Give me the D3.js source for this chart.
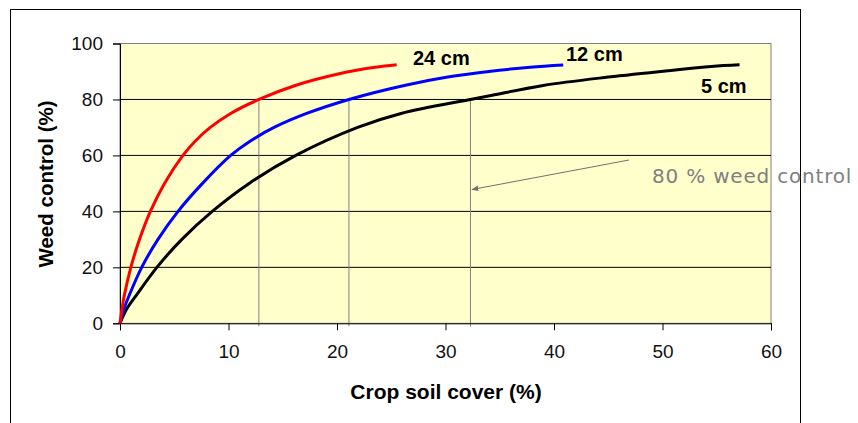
<!DOCTYPE html>
<html>
<head>
<meta charset="utf-8">
<script src="https://cdn.jsdelivr.net/npm/d3@7"></script>
<style>
  body { margin: 0; background: white; }
  svg { display: block; font-family: "Liberation Sans", Arial, sans-serif; }
</style>
</head>
<body>
<svg id="chart"></svg>
<script>
// crop soil cover (%) and weed control (%)
var cover5   = [0, 0.6, 1.5, 3.4, 5.7, 8.5, 11.9, 16.2, 21.9, 25.9, 32.3, 34.3, 39.0, 45.0, 50.5, 54.5, 57.1];
var control5 = [0, 5, 10, 20, 30, 40, 50, 60, 70, 75, 80, 81.5, 85, 88, 90.3, 91.8, 92.4];

var cover12   = [0, 0.35, 0.85, 2.0, 3.5, 5.35, 7.6, 10.2, 11.95, 14.2, 17.2, 21.1, 26.2, 30.2, 34.0, 37.8, 40.85];
var control12 = [0, 5, 10, 20, 30, 40, 50, 60, 65, 70, 75, 80, 85, 88, 90, 91.5, 92.3];

var cover24   = [0, 0.18, 0.4, 1.0, 1.8, 2.8, 4.1, 5.8, 6.9, 8.32, 10.2, 12.8, 16.15, 20.0, 23.5, 25.5];
var control24 = [0, 5, 10, 20, 30, 40, 50, 60, 65, 70, 75, 80, 85, 89, 91.5, 92.4];

var seriesNames = ["5 cm", "12 cm", "24 cm"];
var xTicks = [0, 10, 20, 30, 40, 50, 60];
var yTicks = [0, 20, 40, 60, 80, 100];
// cover where each curve reaches 80 % weed control
var cover80 = [12.8, 21.1, 32.3];
var target = 80;

var W = 858, H = 423;
var plot = {left: 120, right: 771, top: 43.5, bottom: 323.3};

var svg = d3.select("#chart").attr("width", W).attr("height", H);

// outer chart frame
svg.append("rect")
  .attr("x", 10.5).attr("y", 9.5)
  .attr("width", 790).attr("height", 440)
  .attr("fill", "white").attr("stroke", "black");

var x = d3.scaleLinear().domain([0, 60]).range([plot.left, plot.right]),
    y = d3.scaleLinear().domain([0, 100]).range([plot.bottom, plot.top]);

// plot area
svg.append("rect")
  .attr("x", plot.left).attr("y", plot.top)
  .attr("width", plot.right - plot.left).attr("height", plot.bottom - plot.top)
  .attr("fill", "#ffffcc").attr("stroke", "#808080");

// horizontal gridlines
svg.append("g").selectAll("line")
  .data(yTicks.filter(d => d > 0 && d < 100))
  .enter().append("line")
    .attr("x1", plot.left).attr("x2", plot.right)
    .attr("y1", d => y(d)).attr("y2", d => y(d))
    .attr("stroke", "black");

// drop lines at 80 %
svg.append("g").selectAll("line")
  .data(cover80)
  .enter().append("line")
    .attr("x1", d => x(d)).attr("x2", d => x(d))
    .attr("y1", y(target)).attr("y2", plot.bottom + 3)
    .attr("stroke", "#808080");

// axes
var yAxis = svg.append("g")
  .attr("transform", "translate(" + plot.left + ",0)")
  .call(d3.axisLeft(y).tickValues(yTicks).tickSize(7).tickPadding(10));
var xAxis = svg.append("g")
  .attr("transform", "translate(0," + plot.bottom + ")")
  .call(d3.axisBottom(x).tickValues(xTicks).tickSize(7).tickPadding(14));

[xAxis, yAxis].forEach(function(a){
  a.select(".domain").attr("stroke", "black");
  a.selectAll(".tick line").attr("stroke", "black");
  a.selectAll("text").attr("font-size", 19).attr("fill", "#111")
    .attr("font-family", "Liberation Sans, Arial, sans-serif");
});

// curves
var curves = [
  {name: seriesNames[0], xs: cover5,  ys: control5,  color: "black"},
  {name: seriesNames[1], xs: cover12, ys: control12, color: "blue"},
  {name: seriesNames[2], xs: cover24, ys: control24, color: "red"}
];

var line = d3.line()
  .x(d => x(d[0]))
  .y(d => y(d[1]))
  .curve(d3.curveCatmullRom.alpha(0.5));

svg.append("g").selectAll("path")
  .data(curves)
  .enter().append("path")
    .attr("d", c => line(c.xs.map((v, i) => [v, c.ys[i]])))
    .attr("fill", "none")
    .attr("stroke", c => c.color)
    .attr("stroke-width", 3)
    .attr("stroke-linejoin", "round");

// series labels
var labelPos = [
  {x: 701, y: 93},
  {x: 566, y: 61},
  {x: 413, y: 65}
];
svg.append("g").selectAll("text")
  .data(curves)
  .enter().append("text")
    .attr("x", (c, i) => labelPos[i].x)
    .attr("y", (c, i) => labelPos[i].y)
    .attr("font-size", 20).attr("font-weight", "bold")
    .text(c => c.name);

// arrow annotation
svg.append("defs").append("marker")
  .attr("id", "arrow")
  .attr("viewBox", "0 0 10 10")
  .attr("refX", 9).attr("refY", 5)
  .attr("markerWidth", 7).attr("markerHeight", 7)
  .attr("orient", "auto")
  .append("path")
    .attr("d", "M0,1 L10,5 L0,9 Z")
    .attr("fill", "#707070");

svg.append("line")
  .attr("x1", 629).attr("y1", 160)
  .attr("x2", 472).attr("y2", 189.5)
  .attr("stroke", "#707070")
  .attr("marker-end", "url(#arrow)");

svg.append("text")
  .attr("x", 652).attr("y", 183)
  .attr("font-family", "DejaVu Sans, Verdana, sans-serif")
  .attr("font-size", 20)
  .attr("letter-spacing", 0.8)
  .attr("fill", "#808080")
  .text("80 % weed control");

// axis titles
svg.append("text")
  .attr("x", 446).attr("y", 399)
  .attr("text-anchor", "middle")
  .attr("font-size", 21).attr("font-weight", "bold")
  .text("Crop soil cover (%)");

svg.append("text")
  .attr("transform", "translate(53,184) rotate(-90)")
  .attr("text-anchor", "middle")
  .attr("font-size", 20.5).attr("font-weight", "bold")
  .text("Weed control (%)");
</script>
</body>
</html>
